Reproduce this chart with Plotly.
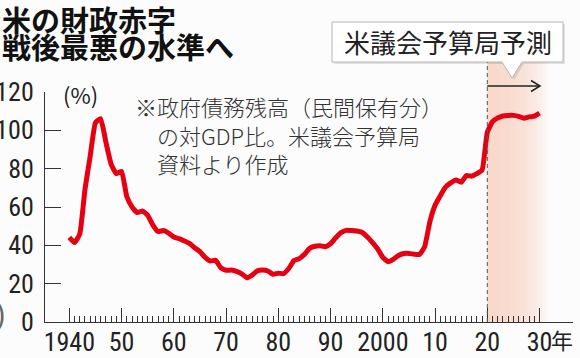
import plotly.graph_objects as go

# ---- data ----
years = list(range(1940, 2031))
debt_pct = [
    44.2, 41.5, 45.9, 69.2, 86.6, 103.9, 106.1, 93.9, 82.4, 77.4,      # 1940-49
    78.6, 65.5, 60.1, 57.1, 57.9, 55.7, 50.6, 47.2, 47.7, 46.4,        # 1950-59
    44.3, 43.5, 42.3, 41.0, 38.7, 36.7, 33.7, 31.8, 32.2, 28.3,        # 1960-69
    27.0, 27.1, 26.4, 25.1, 23.1, 24.5, 26.7, 27.1, 26.6, 24.9,        # 1970-79
    25.5, 25.2, 27.9, 32.1, 33.1, 35.3, 38.4, 39.5, 39.8, 39.3,        # 1980-89
    40.8, 44.0, 46.6, 47.8, 47.7, 47.5, 46.8, 44.5, 41.6, 38.2,        # 1990-99
    33.7, 31.5, 32.7, 34.7, 35.7, 35.8, 35.4, 35.2, 39.2, 52.3,        # 2000-09
    60.9, 65.9, 70.4, 72.6, 74.1, 72.9, 76.4, 76.1, 77.4, 79.2,        # 2010-19
    99.0, 104.5, 106.5, 107.5, 107.8, 107.8, 107.3, 106.3, 107.0, 107.4,  # 2020-29
    109.0,                                                              # 2030
]
major_ticks = [1940, 1950, 1960, 1970, 1980, 1990, 2000, 2010, 2020, 2030]
major_labels = ["1940", "50", "60", "70", "80", "90", "2000", "10", "20", "30"]
minor_ticks = [y for y in range(1941, 2030) if y % 10 != 0]
y_ticks = [0, 20, 40, 60, 80, 100, 120]
proj_start = 2020

title_lines = ["米の財政赤字", "戦後最悪の水準へ"]
proj_label = "米議会予算局予測"
note_text = "※政府債務残高（民間保有分）<br>　の対GDP比。米議会予算局<br>　資料より作成"
unit_label = "(%)"
year_suffix = "年"

# ---- geometry helpers (pixel -> paper) ----
W, H = 580, 358
ML, MR, MT, MB = 45, 7, 92, 36
PW, PH = W - ML - MR, H - MT - MB
XR = [1935.35, 2036.4]


def xp(px):
    return (px - ML) / PW


def yp(py):
    return (H - MB - py) / PH


def xd(year):
    return (year - XR[0]) / (XR[1] - XR[0])


NUM_FONT = "Liberation Sans Narrow, Roboto Condensed, Arial Narrow, sans-serif"
JP_FONT = "Noto Sans CJK JP, sans-serif"

fig = go.Figure()
fig.add_trace(go.Scatter(
    x=years, y=debt_pct, mode="lines",
    line=dict(color="#e60012", width=5, shape="spline", smoothing=0.4),
    hoverinfo="skip", showlegend=False,
))

shapes = []
# projection shading (horizontal fade)
x_start = xd(proj_start)
x_end = xp(549)
n = 40
for i in range(n):
    t = (i + 0.5) / n
    op = max(0.0, 1 - t ** 2.0)
    x0 = x_start + (x_end - x_start) * i / n
    x1 = x_start + (x_end - x_start) * (i + 1) / n
    shapes.append(dict(type="rect", xref="paper", yref="paper",
                       x0=x0, x1=x1 + 0.001, y0=0, y1=yp(62),
                       fillcolor=f"rgba(248,217,203,{op:.3f})",
                       line=dict(width=0), layer="below"))
# dashed boundary line
shapes.append(dict(type="line", xref="paper", yref="paper",
                   x0=x_start, x1=x_start, y0=0, y1=yp(62),
                   line=dict(color="#555555", width=1, dash="4px,3px")))


# callout shadow + callout box with pointer
def callout(dx, dy):
    pts = [(332, 22), (563, 22), (563, 62), (522, 62), (512, 78), (502, 62), (332, 62)]
    return "M " + " L ".join(f"{xp(a + dx):.4f},{yp(b + dy):.4f}" for a, b in pts) + " Z"


shapes.append(dict(type="path", xref="paper", yref="paper", path=callout(2, 2),
                   fillcolor="rgba(0,0,0,0.10)", line=dict(width=0)))
shapes.append(dict(type="path", xref="paper", yref="paper", path=callout(0, 0),
                   fillcolor="white", line=dict(color="#b5b5b5", width=1)))
# arrow
shapes.append(dict(type="line", xref="paper", yref="paper",
                   x0=x_start, x1=xp(540), y0=yp(86), y1=yp(86),
                   line=dict(color="#222222", width=1.5)))
shapes.append(dict(type="path", xref="paper", yref="paper",
                   path=f"M {xp(531):.4f},{yp(80.5):.4f} L {xp(540):.4f},{yp(86):.4f} L {xp(531):.4f},{yp(91.5):.4f}",
                   line=dict(color="#222222", width=1.5)))

annotations = [
    dict(text=title_lines[0], x=xp(0), y=yp(19), xanchor="left", yanchor="middle",
         font=dict(family=JP_FONT, size=29, color="#111111", weight="bold")),
    dict(text=title_lines[1], x=xp(0), y=yp(46), xanchor="left", yanchor="middle",
         font=dict(family=JP_FONT, size=29, color="#111111", weight="bold")),
    dict(text=proj_label, x=xp(448), y=yp(42), xanchor="center", yanchor="middle",
         font=dict(family=JP_FONT, size=26, color="#222222")),
    dict(text=note_text, x=xp(133), y=yp(88), xanchor="left", yanchor="top", align="left",
         font=dict(family=JP_FONT, size=22, color="#333333", weight=300)),
    dict(text=unit_label, x=xp(61), y=yp(94), xanchor="left", yanchor="middle",
         font=dict(family=JP_FONT, size=22, color="#222222")),
    dict(text=year_suffix, x=xp(549), y=yp(339), xanchor="left", yanchor="middle",
         font=dict(family=JP_FONT, size=22, color="#222222")),
    dict(text=")", x=xp(-6), y=yp(314), xanchor="left", yanchor="middle",
         font=dict(family=NUM_FONT, size=30, color="#666666")),
]
for a in annotations:
    a.update(xref="paper", yref="paper", showarrow=False)

fig.update_layout(
    width=W, height=H,
    margin=dict(l=ML, r=MR, t=MT, b=MB, pad=0),
    paper_bgcolor="#fcfcfc", plot_bgcolor="rgba(0,0,0,0)",
    shapes=shapes, annotations=annotations,
    showlegend=False,
    xaxis=dict(
        range=XR, showgrid=False, zeroline=False,
        showline=True, linecolor="#333333", linewidth=1,
        tickmode="array", tickvals=major_ticks, ticktext=major_labels,
        ticks="inside", ticklen=14, tickwidth=1, tickcolor="#333333",
        tickfont=dict(family=NUM_FONT, size=26, color="#222222"),
        ticklabelstandoff=-3,
        minor=dict(tickmode="array", tickvals=minor_ticks, ticks="inside",
                   ticklen=6, tickwidth=1, tickcolor="#333333"),
        automargin=False, fixedrange=True,
    ),
    yaxis=dict(
        range=[0, 120], showgrid=False, zeroline=False,
        showline=True, linecolor="#333333", linewidth=1,
        tickmode="array", tickvals=y_ticks,
        ticks="inside", ticklen=16, tickwidth=1, tickcolor="#333333",
        tickfont=dict(family=NUM_FONT, size=26, color="#222222"),
        ticklabelstandoff=5,
        automargin=False, fixedrange=True,
    ),
)

fig.write_html(
    "out.html",
    config={"displayModeBar": False, "staticPlot": True},
    post_script="document.body.style.margin='0';document.body.style.overflow='hidden';",
)
